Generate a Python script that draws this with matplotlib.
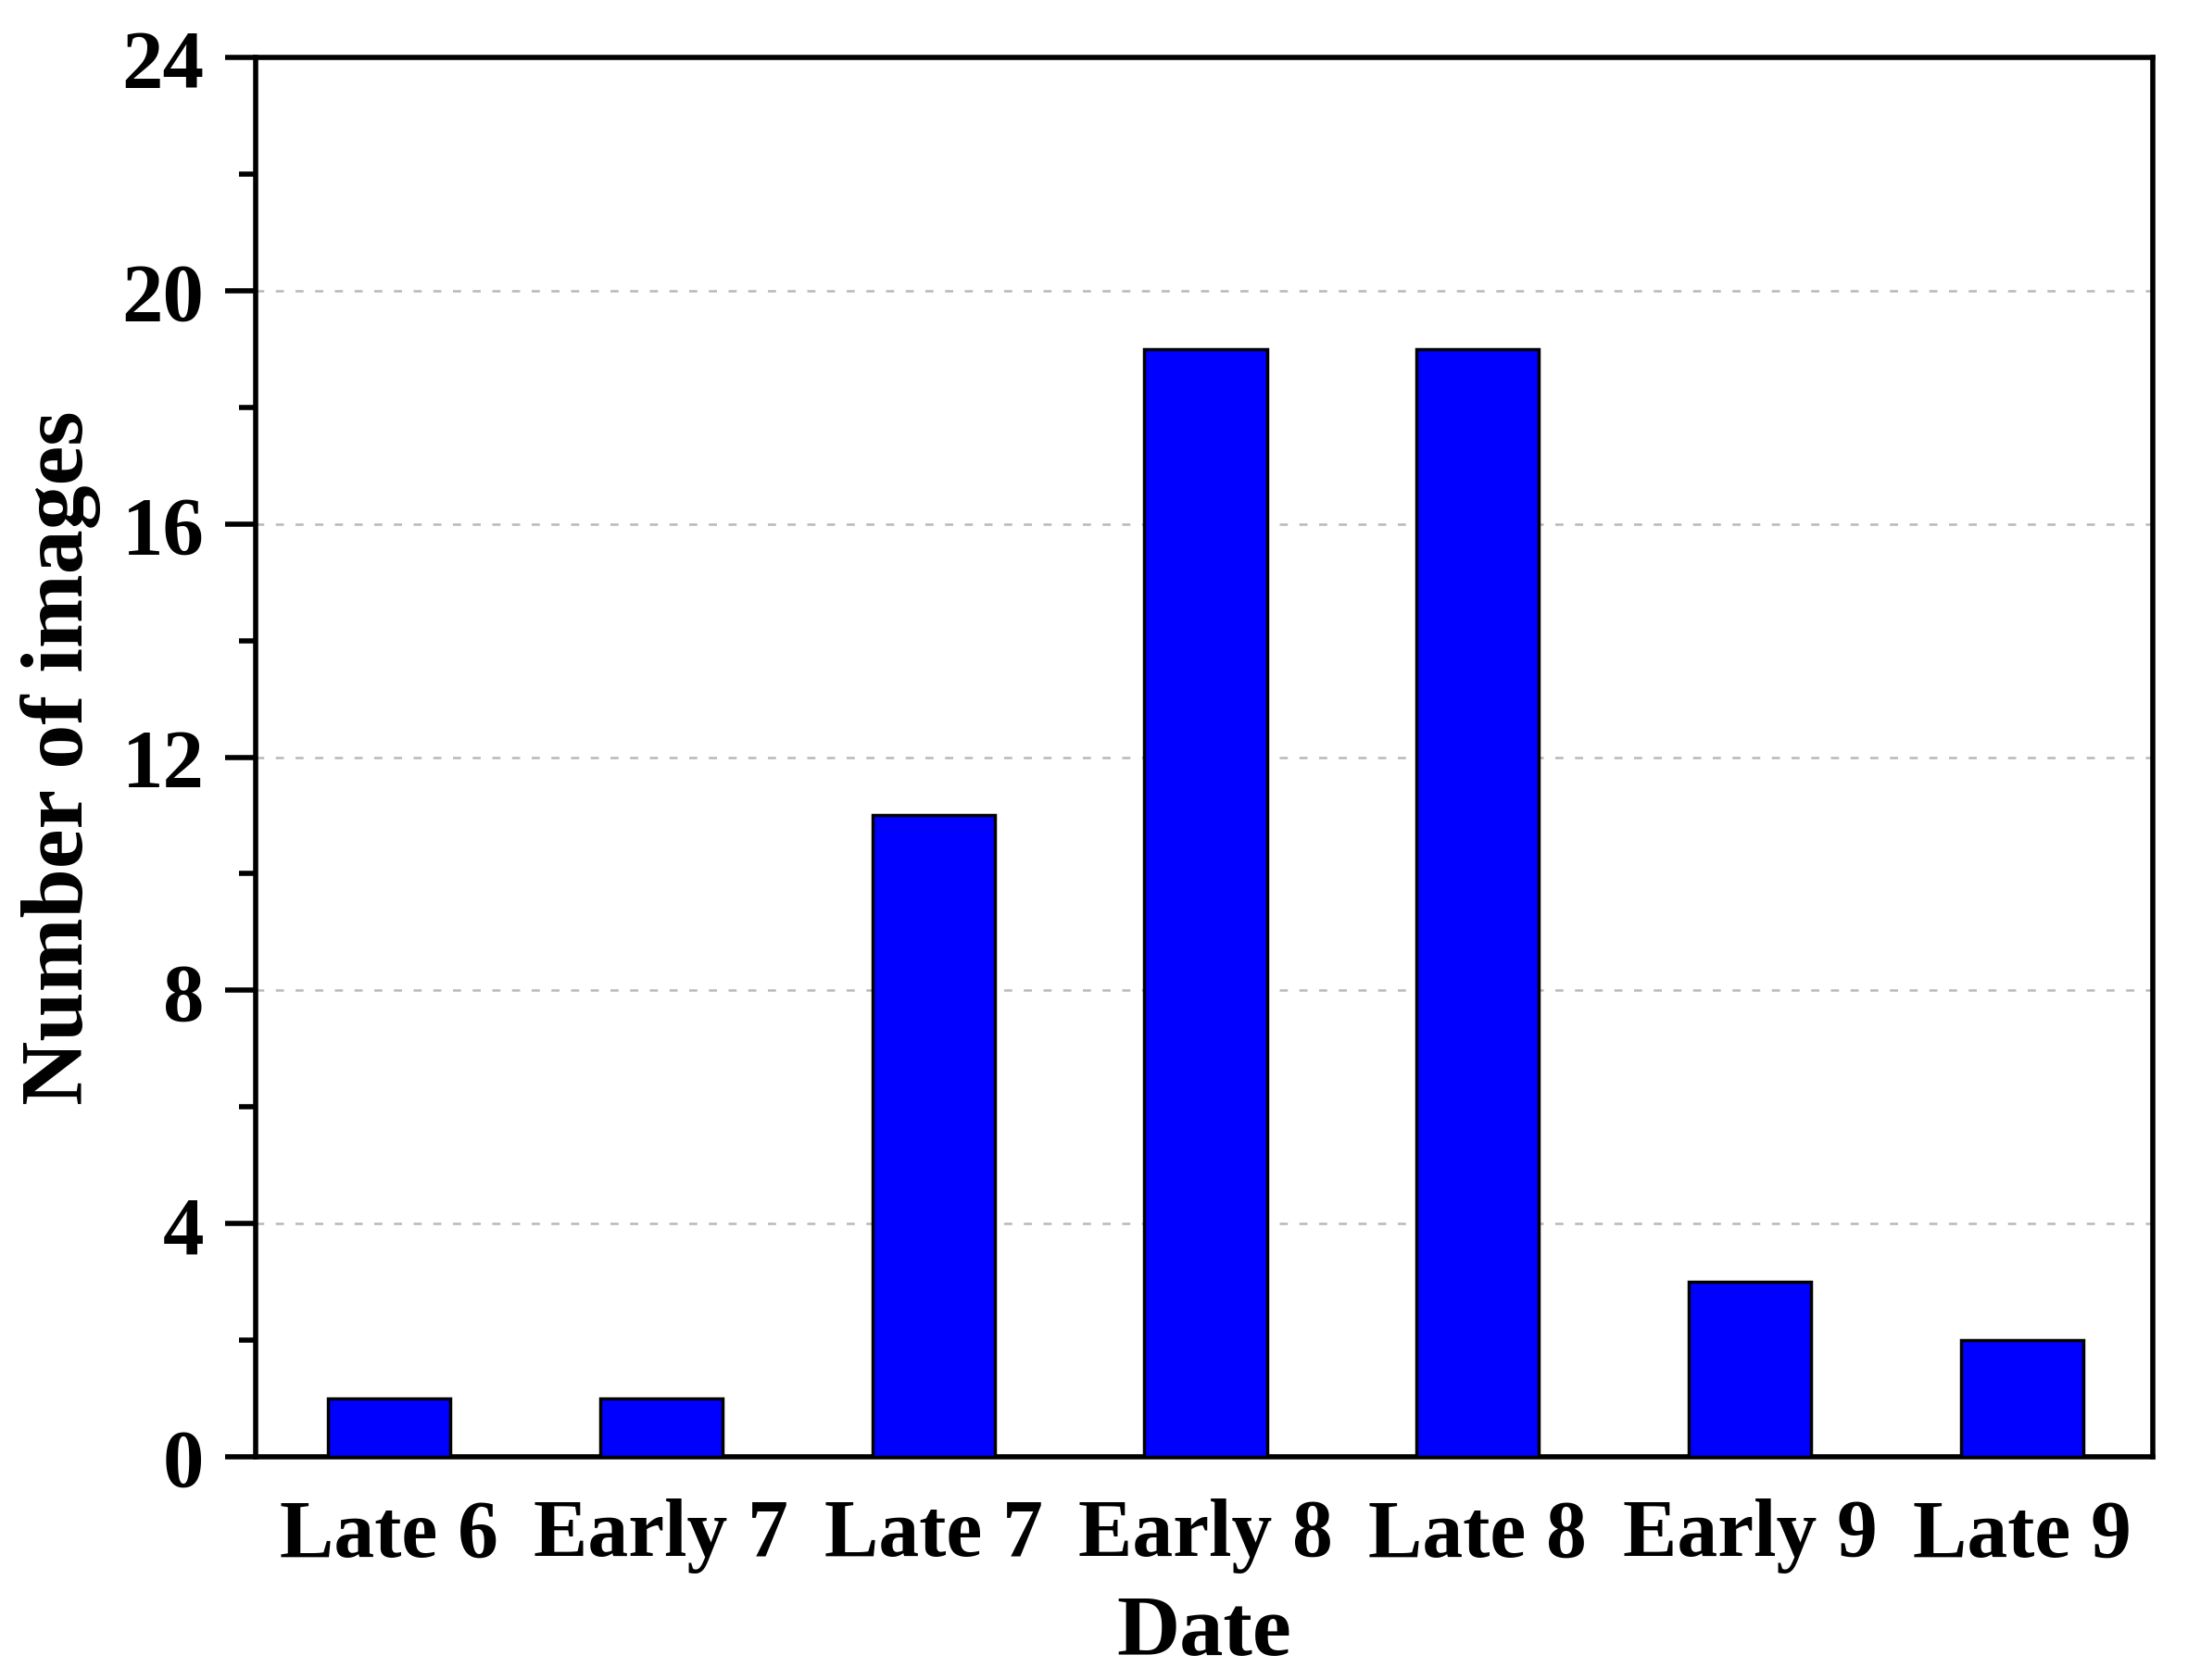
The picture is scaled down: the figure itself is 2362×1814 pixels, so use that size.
import numpy as np
import matplotlib.pyplot as plt

# data
dates = ['Late 6', 'Early 7', 'Late 7', 'Early 8', 'Late 8', 'Early 9', 'Late 9']
counts = [1, 1, 11, 19, 19, 3, 2]

plt.rcParams['font.family'] = ['Liberation Serif', 'DejaVu Serif']
plt.rcParams['font.weight'] = 'bold'

fig = plt.figure(figsize=(23.62, 18.15), dpi=100)
ax = fig.add_axes([276/2362, 1-1574/1815, (2324-276)/2362, (1574-63)/1815])

x = np.arange(len(dates))
ax.bar(x, counts, width=0.45, color='#0000ff', edgecolor='black', linewidth=2.5, zorder=3)

ax.set_xlim(-0.49, 6.48)
ax.set_ylim(0, 24)
ax.set_yticks(np.arange(0, 25, 4))
ax.set_yticks(np.arange(2, 24, 4), minor=True)
ax.set_xticks(x)
ax.set_xticklabels(dates)

# dashed grid only at inner major ticks
for yv in np.arange(4, 24, 4):
    ax.axhline(yv, color='#b8b8b8', linestyle=(0, (3.5, 5)), linewidth=1.8, zorder=1)

for s in ax.spines.values():
    s.set_linewidth(4)

ax.tick_params(axis='y', which='major', direction='out', length=24, width=4,
               labelsize=64, pad=16)
ax.tick_params(axis='y', which='minor', direction='out', length=13, width=4)
ax.tick_params(axis='x', length=0, labelsize=63, pad=32)

ax.set_xlabel('Date', fontsize=68, fontweight='bold', labelpad=16)
ax.set_ylabel('Number of images', fontsize=69, fontweight='bold', labelpad=16)

fig.savefig('out.png', dpi=100)
